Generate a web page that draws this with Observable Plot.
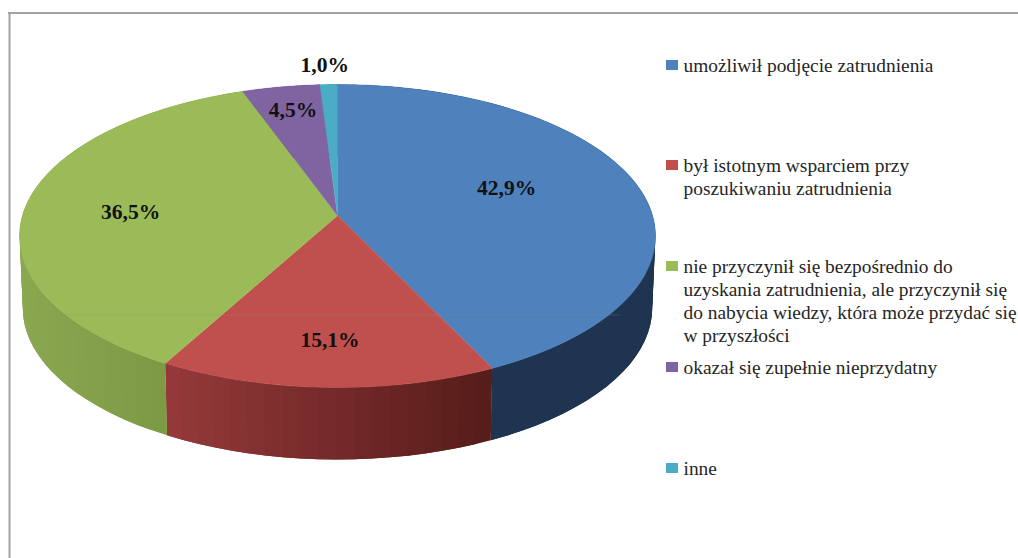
<!DOCTYPE html>
<html lang="pl">
<head>
<meta charset="utf-8">
<script src="https://cdn.jsdelivr.net/npm/d3@7"></script>
<script src="https://cdn.jsdelivr.net/npm/@observablehq/plot@0.6"></script>
<style>
html,body{margin:0;padding:0;background:#fff;overflow:hidden}
svg{display:block}
</style>
</head>
<body>
<div id="chart"></div>
<script>
const categories = [
  "umożliwił podjęcie zatrudnienia",
  "był istotnym wsparciem przy\nposzukiwaniu zatrudnienia",
  "nie przyczynił się bezpośrednio do\nuzyskania zatrudnienia, ale przyczynił się\ndo nabycia wiedzy, która może przydać się\nw przyszłości",
  "okazał się zupełnie nieprzydatny",
  "inne"
];
const values = [42.9, 15.1, 36.5, 4.5, 1.0];
const valueLabels = ["42,9%", "15,1%", "36,5%", "4,5%", "1,0%"];
const topColors = ["#4f81bd", "#c0504d", "#9bbb59", "#8064a2", "#4bacc6"];
const sideFrom = ["#1e3350", "#95393a", "#8aa850", "#5f4a7a", "#37818f"];
const sideTo = ["#1f3450", "#551c19", "#75933f", "#5f4a7a", "#37818f"];
const labelRadius = [0.583, 0.755, 0.659, 0.798, 1.169];
const labelNudge = [-6.4, 0, -2.7, 0.4, -0.5];
const legendRows = [65, 165, 266, 367, 468];

// Perspective pie geometry
const cx = 337, cy = 215, fx = 315, fy = 148.7, k = 0.1353, depth = 72, baseScale = 0.99;
const rad = d => d * Math.PI / 180;
const project = (deg, r = 1) => {
  const X = r * Math.sin(rad(deg)), Z = r * Math.cos(rad(deg)), w = 1 + k * Z;
  return [cx + fx * X / w, cy - fy * Z / w];
};
const lower = ([x, y]) => [cx + (x - cx) * baseScale, y + depth];

const total = d3.sum(values);
let acc = 0;
const slices = values.map((v, i) => {
  const a0 = acc / total * 360;
  acc += v;
  return {i, a0, a1: acc / total * 360};
});

const topRows = [], sideRows = [];
slices.forEach(({i, a0, a1}) => {
  const n = Math.max(2, Math.ceil((a1 - a0) / 0.5));
  const id = `top${i}`;
  const [px, py] = project(0, 0);
  topRows.push({id, x: px, y: py, fill: topColors[i]});
  const rim = [];
  for (let s = 0; s <= n; ++s) {
    const [x, y] = project(a0 + (a1 - a0) * s / n);
    rim.push(x);
    topRows.push({id, x, y, fill: topColors[i]});
  }
  const m = Math.max(1, Math.ceil((a1 - a0) / 3));
  const mix = d3.interpolateRgb(sideFrom[i], sideTo[i]);
  const [xMin, xMax] = d3.extent(rim);
  for (let s = 0; s < m; ++s) {
    const t0 = a0 + (a1 - a0) * s / m;
    const tn = a0 + (a1 - a0) * (s + 1) / m;
    const nx = a0 + (a1 - a0) * Math.min(m, s + 2) / m;
    // each band runs on under the next one, so no seam shows between them
    const arc = [t0, tn, nx].map(t => project(t));
    const u = ((arc[0][0] + arc[1][0]) / 2 - xMin) / (xMax - xMin || 1);
    const fill = mix(u);
    const ring = [...arc, ...arc.map(lower).reverse()];
    ring.forEach(([x, y]) => sideRows.push({id: `side${i}-${s}`, x, y, fill}));
  }
});

const labelRows = slices.map(({i, a0, a1}) => {
  const [x, y] = project((a0 + a1) / 2 + labelNudge[i], labelRadius[i]);
  return {x, y, text: valueLabels[i]};
});
const legendData = categories.map((text, i) => ({text, fill: topColors[i], y: legendRows[i]}));

const chart = Plot.plot({
  width: 1018, height: 558,
  margin: 0,
  x: {domain: [0, 1018], range: [0, 1018], axis: null},
  y: {domain: [0, 558], range: [0, 558], axis: null},
  color: {type: "identity"},
  style: {background: "#fff"},
  marks: [
    Plot.ruleY([12.5], {x1: 8, x2: 1018, stroke: "#a3a3a3", strokeWidth: 2}),
    Plot.ruleX([9], {y1: 12, y2: 558, stroke: "#a3a3a3", strokeWidth: 2}),
    Plot.line(sideRows, {x: "x", y: "y", z: "id", fill: "fill", stroke: null}),
    Plot.line(topRows, {x: "x", y: "y", z: "id", fill: "fill", stroke: "fill", strokeWidth: 0.5}),
    Plot.ruleY([314.5], {x1: 50, x2: 620, stroke: "#8a8a8a", strokeOpacity: 0.3, strokeWidth: 1}),
    Plot.text(labelRows, {x: "x", y: "y", text: "text", fontFamily: "Liberation Serif", fontWeight: "bold", fontSize: 21.5, fill: "#111"}),
    Plot.rect(legendData, {x1: 666, x2: 678, y1: d => d.y - 5, y2: d => d.y + 5, fill: "fill"}),
    Plot.text(legendData, {x: 683, y: d => d.y - 10, text: "text", textAnchor: "start", lineAnchor: "top", lineHeight: 1.19, fontFamily: "Liberation Serif", fontSize: 19.4, fill: "#262626"})
  ]
});
document.getElementById("chart").append(chart);
</script>
</body>
</html>
